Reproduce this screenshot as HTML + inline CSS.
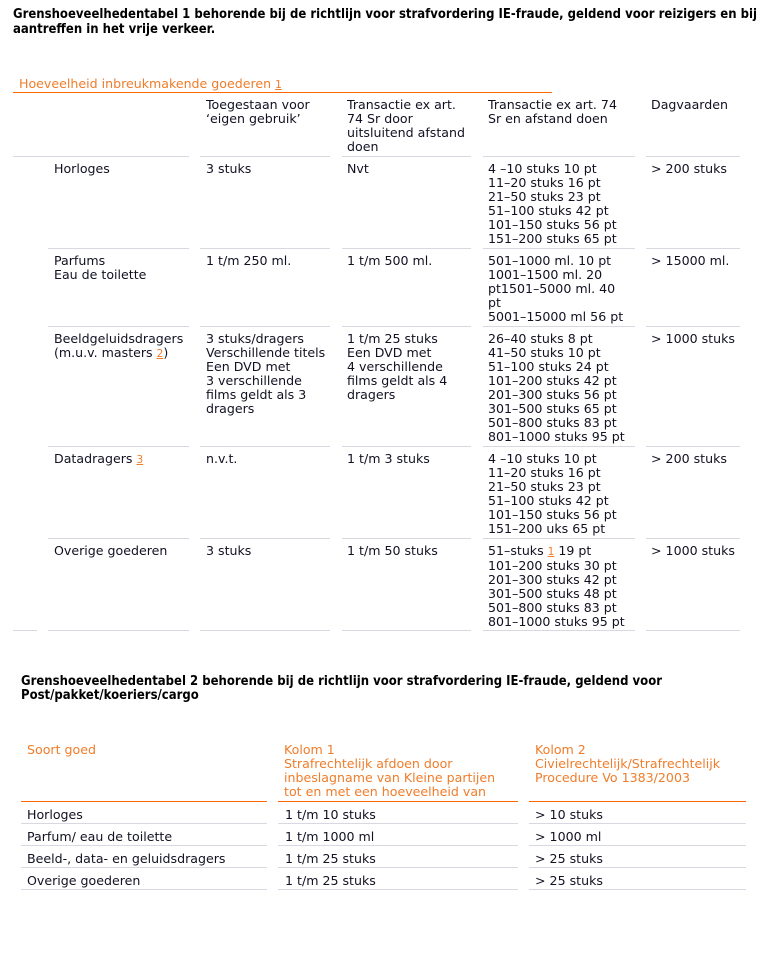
<!DOCTYPE html>
<html><head><meta charset="utf-8">
<style>
html,body{margin:0;padding:0;background:#fff;}
body{width:782px;height:960px;position:relative;overflow:hidden;font-family:"DejaVu Sans","Liberation Sans",sans-serif;font-size:12.6px;line-height:14px;color:#111122;}
.t{position:absolute;white-space:nowrap;margin-top:1px;}
.t2{margin-top:2px;}
.h{position:absolute;white-space:nowrap;font-weight:bold;font-size:13px;line-height:14.5px;color:#000;transform-origin:0 0;}
.o{color:#ef7d2b;}
.l{position:absolute;height:1px;background:#d8d8e0;}
.ol{position:absolute;height:1px;background:#ff6600;}
.fn{color:#ef7d2b;text-decoration:underline;font-size:10.5px;}
</style></head><body>

<div class="h" id="h1" style="left:13px;top:8px;">Grenshoeveelhedentabel 1 behorende bij de richtlijn voor strafvordering IE-fraude, geldend voor reizigers en bij<br>aantreffen in het vrije verkeer.</div>

<div class="t o" style="left:19px;top:76px;">Hoeveelheid inbreukmakende goederen <span class="fn">1</span></div>
<div class="ol" style="left:13px;top:92px;width:539px;"></div>

<!-- header -->
<div class="t" style="left:206px;top:97px;">Toegestaan voor<br>‘eigen gebruik’</div>
<div class="t" style="left:347px;top:97px;">Transactie ex art.<br>74 Sr door<br>uitsluitend afstand<br>doen</div>
<div class="t" style="left:488px;top:97px;">Transactie ex art. 74<br>Sr en afstand doen</div>
<div class="t" style="left:651px;top:97px;">Dagvaarden</div>

<div class="l" style="left:13px;top:156px;width:176px;"></div>
<div class="l" style="left:200px;top:156px;width:130px;"></div>
<div class="l" style="left:342px;top:156px;width:129px;"></div>
<div class="l" style="left:483px;top:156px;width:152px;"></div>
<div class="l" style="left:646px;top:156px;width:94px;"></div>

<!-- row Horloges -->
<div class="t" style="left:54px;top:161px;">Horloges</div>
<div class="t" style="left:206px;top:161px;">3 stuks</div>
<div class="t" style="left:347px;top:161px;">Nvt</div>
<div class="t" style="left:488px;top:161px;">4 –10 stuks 10 pt<br>11–20 stuks 16 pt<br>21–50 stuks 23 pt<br>51–100 stuks 42 pt<br>101–150 stuks 56 pt<br>151–200 stuks 65 pt</div>
<div class="t" style="left:651px;top:161px;">&gt; 200 stuks</div>

<div class="l" style="left:48px;top:248px;width:141px;"></div>
<div class="l" style="left:200px;top:248px;width:130px;"></div>
<div class="l" style="left:342px;top:248px;width:129px;"></div>
<div class="l" style="left:483px;top:248px;width:152px;"></div>
<div class="l" style="left:646px;top:248px;width:94px;"></div>

<!-- row Parfums -->
<div class="t" style="left:54px;top:253px;">Parfums<br>Eau de toilette</div>
<div class="t" style="left:206px;top:253px;">1 t/m 250 ml.</div>
<div class="t" style="left:347px;top:253px;">1 t/m 500 ml.</div>
<div class="t" style="left:488px;top:253px;">501–1000 ml. 10 pt<br>1001–1500 ml. 20<br>pt1501–5000 ml. 40<br>pt<br>5001–15000 ml 56 pt</div>
<div class="t" style="left:651px;top:253px;">&gt; 15000 ml.</div>

<div class="l" style="left:48px;top:326px;width:141px;"></div>
<div class="l" style="left:200px;top:326px;width:130px;"></div>
<div class="l" style="left:342px;top:326px;width:129px;"></div>
<div class="l" style="left:483px;top:326px;width:152px;"></div>
<div class="l" style="left:646px;top:326px;width:94px;"></div>

<!-- row Beeld -->
<div class="t" style="left:54px;top:331px;">Beeldgeluidsdragers<br>(m.u.v. masters <span class="fn">2</span>)</div>
<div class="t" style="left:206px;top:331px;">3 stuks/dragers<br>Verschillende titels<br>Een DVD met<br>3 verschillende<br>films geldt als 3<br>dragers</div>
<div class="t" style="left:347px;top:331px;">1 t/m 25 stuks<br>Een DVD met<br>4 verschillende<br>films geldt als 4<br>dragers</div>
<div class="t" style="left:488px;top:331px;">26–40 stuks 8 pt<br>41–50 stuks 10 pt<br>51–100 stuks 24 pt<br>101–200 stuks 42 pt<br>201–300 stuks 56 pt<br>301–500 stuks 65 pt<br>501–800 stuks 83 pt<br>801–1000 stuks 95 pt</div>
<div class="t" style="left:651px;top:331px;">&gt; 1000 stuks</div>

<div class="l" style="left:48px;top:446px;width:141px;"></div>
<div class="l" style="left:200px;top:446px;width:130px;"></div>
<div class="l" style="left:342px;top:446px;width:129px;"></div>
<div class="l" style="left:483px;top:446px;width:152px;"></div>
<div class="l" style="left:646px;top:446px;width:94px;"></div>

<!-- row Datadragers -->
<div class="t" style="left:54px;top:451px;">Datadragers <span class="fn">3</span></div>
<div class="t" style="left:206px;top:451px;">n.v.t.</div>
<div class="t" style="left:347px;top:451px;">1 t/m 3 stuks</div>
<div class="t" style="left:488px;top:451px;">4 –10 stuks 10 pt<br>11–20 stuks 16 pt<br>21–50 stuks 23 pt<br>51–100 stuks 42 pt<br>101–150 stuks 56 pt<br>151–200 uks 65 pt</div>
<div class="t" style="left:651px;top:451px;">&gt; 200 stuks</div>

<div class="l" style="left:48px;top:538px;width:141px;"></div>
<div class="l" style="left:200px;top:538px;width:130px;"></div>
<div class="l" style="left:342px;top:538px;width:129px;"></div>
<div class="l" style="left:483px;top:538px;width:152px;"></div>
<div class="l" style="left:646px;top:538px;width:94px;"></div>

<!-- row Overige -->
<div class="t" style="left:54px;top:543px;">Overige goederen</div>
<div class="t" style="left:206px;top:543px;">3 stuks</div>
<div class="t" style="left:347px;top:543px;">1 t/m 50 stuks</div>
<div class="t" style="left:488px;top:543px;">51–stuks <span class="fn">1</span> 19 pt<br>101–200 stuks 30 pt<br>201–300 stuks 42 pt<br>301–500 stuks 48 pt<br>501–800 stuks 83 pt<br>801–1000 stuks 95 pt</div>
<div class="t" style="left:651px;top:543px;">&gt; 1000 stuks</div>

<div class="l" style="left:13px;top:630px;width:24px;"></div>
<div class="l" style="left:48px;top:630px;width:141px;"></div>
<div class="l" style="left:200px;top:630px;width:130px;"></div>
<div class="l" style="left:342px;top:630px;width:129px;"></div>
<div class="l" style="left:483px;top:630px;width:152px;"></div>
<div class="l" style="left:646px;top:630px;width:94px;"></div>

<!-- Table 2 -->
<div class="h" id="h2" style="left:21px;top:675px;line-height:14px;">Grenshoeveelhedentabel 2 behorende bij de richtlijn voor strafvordering IE-fraude, geldend voor<br>Post/pakket/koeriers/cargo</div>

<div class="t o" style="left:27px;top:742px;">Soort goed</div>
<div class="t o" style="left:284px;top:742px;">Kolom 1<br>Strafrechtelijk afdoen door<br>inbeslagname van Kleine partijen<br>tot en met een hoeveelheid van</div>
<div class="t o" style="left:535px;top:742px;">Kolom 2<br>Civielrechtelijk/Strafrechtelijk<br>Procedure Vo 1383/2003</div>

<div class="ol" style="left:21px;top:801px;width:246px;"></div>
<div class="ol" style="left:278px;top:801px;width:240px;"></div>
<div class="ol" style="left:529px;top:801px;width:217px;"></div>

<div class="t t2" style="left:27px;top:806px;">Horloges</div>
<div class="t t2" style="left:285px;top:806px;">1 t/m 10 stuks</div>
<div class="t t2" style="left:535px;top:806px;">&gt; 10 stuks</div>
<div class="l" style="left:21px;top:823px;width:246px;"></div>
<div class="l" style="left:278px;top:823px;width:240px;"></div>
<div class="l" style="left:529px;top:823px;width:217px;"></div>

<div class="t t2" style="left:27px;top:828px;">Parfum/ eau de toilette</div>
<div class="t t2" style="left:285px;top:828px;">1 t/m 1000 ml</div>
<div class="t t2" style="left:535px;top:828px;">&gt; 1000 ml</div>
<div class="l" style="left:21px;top:845px;width:246px;"></div>
<div class="l" style="left:278px;top:845px;width:240px;"></div>
<div class="l" style="left:529px;top:845px;width:217px;"></div>

<div class="t t2" style="left:27px;top:850px;">Beeld-, data- en geluidsdragers</div>
<div class="t t2" style="left:285px;top:850px;">1 t/m 25 stuks</div>
<div class="t t2" style="left:535px;top:850px;">&gt; 25 stuks</div>
<div class="l" style="left:21px;top:867px;width:246px;"></div>
<div class="l" style="left:278px;top:867px;width:240px;"></div>
<div class="l" style="left:529px;top:867px;width:217px;"></div>

<div class="t t2" style="left:27px;top:872px;">Overige goederen</div>
<div class="t t2" style="left:285px;top:872px;">1 t/m 25 stuks</div>
<div class="t t2" style="left:535px;top:872px;">&gt; 25 stuks</div>
<div class="l" style="left:21px;top:889px;width:246px;"></div>
<div class="l" style="left:278px;top:889px;width:240px;"></div>
<div class="l" style="left:529px;top:889px;width:217px;"></div>

<script>
(function(){
  function fit(id,target){
    var el=document.getElementById(id);
    if(!el) return;
    var w=el.getBoundingClientRect().width;
    if(w>0){el.style.transform='scaleX('+(target/w)+')';}
  }
  fit('h1',744);
  fit('h2',641);
})();
</script>
</body></html>
